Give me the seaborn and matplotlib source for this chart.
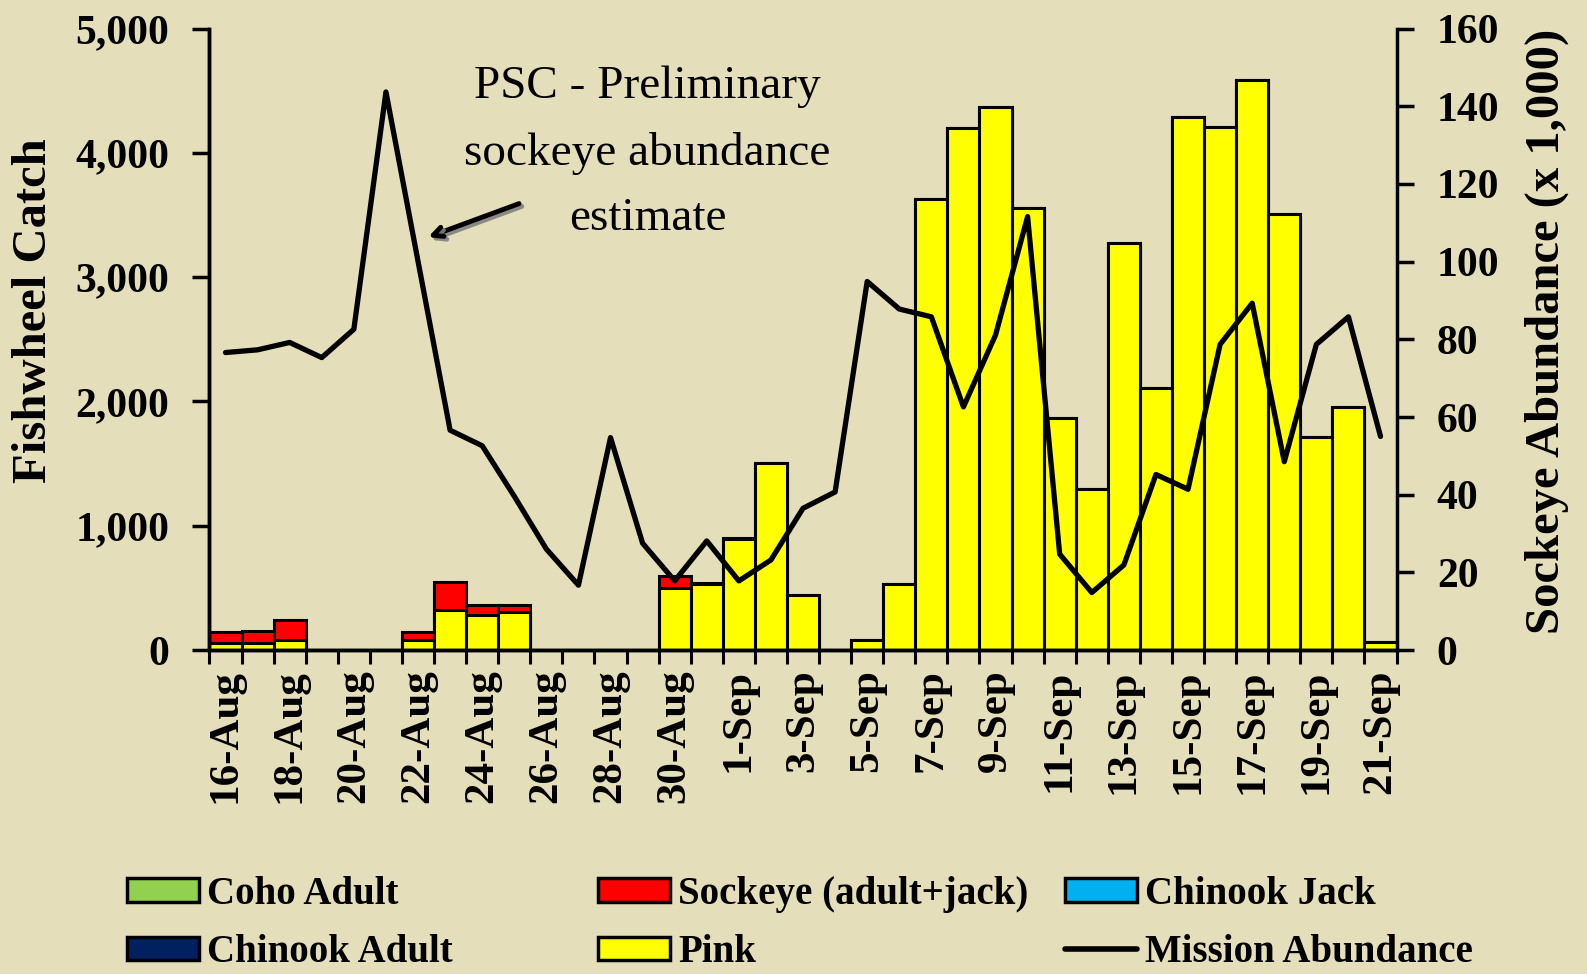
import matplotlib
matplotlib.use("Agg")
import matplotlib.pyplot as plt
import matplotlib.patheffects as pe
from matplotlib.patches import Patch
from matplotlib.lines import Line2D
from matplotlib.ticker import FuncFormatter
import numpy as np
import pandas as pd
import seaborn as sns

# Daily fishwheel catch (16-Aug .. 21-Sep) and Mission sockeye abundance
days = [f"{d.day}-{d.strftime('%b')}" for d in pd.date_range("2012-08-16", "2012-09-21")]
pink = [60, 60, 80, 0, 0, 0, 80, 324, 281, 306, 0, 0, 0, 0, 499, 530, 890, 1507, 442, 0,
        80, 530, 3630, 4200, 4370, 3560, 1865, 1295, 3272, 2110, 4285, 4212, 4585, 3510,
        1718, 1954, 62]
sockeye = [87, 94, 160, 0, 0, 0, 62, 226, 81, 59, 0, 0, 0, 0, 99, 10, 12, 0, 0, 0,
           0, 0, 0, 0, 0, 0, 0, 0, 0, 0, 0, 0, 0, 0, 0, 0, 0]
mission = [76.6, 77.3, 79.2, 75.3, 82.6, 143.7, 100.1, 56.6, 52.6, 39.6, 26.0, 16.7, 54.7,
           27.5, 17.8, 28.1, 17.8, 23.2, 36.5, 40.7, 94.9, 87.8, 85.8, 62.6, 81.1, 111.6,
           24.7, 14.8, 21.9, 45.2, 41.4, 78.7, 89.3, 48.5, 78.7, 85.8, 55.0]

legend_colors = {
    "Coho Adult": "#92D050",
    "Sockeye (adult+jack)": "#FF0000",
    "Chinook Jack": "#00B0F0",
    "Chinook Adult": "#002060",
    "Pink": "#FFFF00",
}

bg = "#E5DEBA"
sns.set_style("ticks")
plt.rcParams["font.family"] = ["Liberation Serif", "DejaVu Serif"]
plt.rcParams["font.weight"] = "bold"
for key in ("text.color", "axes.labelcolor", "xtick.color", "ytick.color"):
    plt.rcParams[key] = "black"

df = pd.DataFrame({"day": days, "pink": pink, "sockeye": sockeye, "mission": mission})
df["total"] = df["pink"] + df["sockeye"]
df["pos"] = np.arange(len(df))

fig = plt.figure(figsize=(15.87, 9.74), dpi=100, facecolor=bg)
ax = fig.add_axes([0.132, 0.3326, 0.748, 0.638])
ax.set_facecolor("none")

# stacked bars: draw total in red, then pink on top of it
sns.barplot(data=df, x="day", y="total", color="#FF0000", saturation=1, width=1,
            edgecolor="black", linewidth=2.2, ax=ax)
sns.barplot(data=df, x="day", y="pink", color="#FFFF00", saturation=1, width=1,
            edgecolor="black", linewidth=2.2, ax=ax)

ax2 = ax.twinx()
sns.lineplot(data=df, x="pos", y="mission", color="black", linewidth=3.8, ax=ax2)

ax.set_xlim(-0.5, len(days) - 0.5)
ax.set_ylim(0, 5000)
ax2.set_ylim(0, 160)

ax.set_xticks(np.arange(0, len(days), 2))
ax.set_xticklabels(days[::2], rotation=90, fontsize=31, fontweight="bold")
ax.set_xticks(np.arange(-0.5, len(days), 1), minor=True)
ax.tick_params(axis="x", which="major", length=0, pad=14)
ax.tick_params(axis="x", which="minor", length=10, width=2.2, direction="out")

ax.set_yticks(np.arange(0, 5001, 1000))
ax.yaxis.set_major_formatter(FuncFormatter(lambda v, p: f"{int(v):,}"))
ax.tick_params(axis="y", length=12, width=2.5, pad=17, labelsize=30)
ax2.set_yticks(np.arange(0, 161, 20))
ax2.tick_params(axis="y", length=12, width=2.5, pad=17, labelsize=30)
for lab in ax.get_yticklabels() + ax2.get_yticklabels():
    lab.set_fontweight("bold")

ax.set_xlabel("")
ax.set_ylabel("Fishwheel Catch", fontsize=35, fontweight="bold")
ax.yaxis.set_label_coords(-0.129, 0.547)
ax2.set_xlabel("")
ax2.set_ylabel("Sockeye Abundance (x 1,000)", fontsize=35, fontweight="bold")
ax2.yaxis.set_label_coords(1.108, 0.513)

for a in (ax, ax2):
    a.spines["top"].set_visible(False)
    for s in ("left", "right", "bottom"):
        a.spines[s].set_linewidth(2.5)
        a.spines[s].set_color("black")
ax.spines["right"].set_visible(False)

# annotation
ax2.text(0.369, 0.80, "PSC - Preliminary\nsockeye abundance\nestimate",
         transform=ax2.transAxes, ha="center", va="center", fontsize=34,
         fontweight="normal", linespacing=1.7)
ax2.annotate("", xy=(0.182, 0.663), xytext=(0.263, 0.72), xycoords="axes fraction",
             textcoords="axes fraction",
             arrowprops=dict(arrowstyle="->,head_length=0.7,head_width=0.35", lw=3.5,
                             color="black",
                             path_effects=[pe.SimpleLineShadow(offset=(2, -2), shadow_color="gray", alpha=0.9),
                                           pe.Normal()]))

# legend: three columns placed separately
def box(c):
    return Patch(facecolor=c, edgecolor="black", linewidth=2.5)

columns = [
    (0.080, [(box(legend_colors["Coho Adult"]), "Coho Adult"),
             (box(legend_colors["Chinook Adult"]), "Chinook Adult")]),
    (0.377, [(box(legend_colors["Sockeye (adult+jack)"]), "Sockeye (adult+jack)"),
             (box(legend_colors["Pink"]), "Pink")]),
    (0.671, [(box(legend_colors["Chinook Jack"]), "Chinook Jack"),
             (Line2D([], [], color="black", linewidth=4), "Mission Abundance")]),
]
for x0, items in columns:
    fig.legend([h for h, _ in items], [t for _, t in items], loc="upper left",
               bbox_to_anchor=(x0, 0.101), frameon=False, borderpad=0, borderaxespad=0,
               handlelength=1.85, handleheight=0.55, handletextpad=0.2, labelspacing=0.55,
               prop={"family": "Liberation Serif", "weight": "bold", "size": 28})

fig.savefig("out.png", dpi=100, facecolor=bg)
